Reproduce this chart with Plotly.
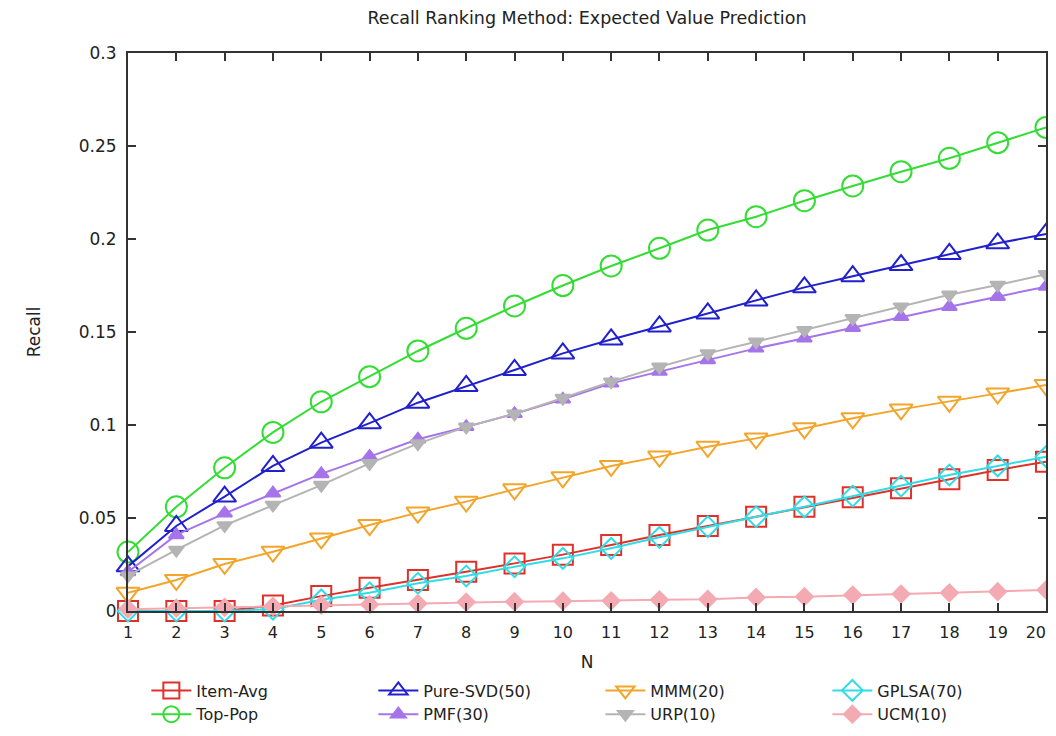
import plotly.graph_objects as go

N = list(range(1, 21))
# last label padded so it stays inside the page edge
x_tick_labels = [str(n) for n in N[:-1]] + ["20\u00a0\u00a0\u00a0\u00a0"]

item_avg = [0.0, 0.0, 0.0, 0.003, 0.008, 0.0125, 0.0167, 0.0211, 0.0256, 0.0303,
            0.0355, 0.0409, 0.0457, 0.0507, 0.056, 0.0611, 0.066, 0.0708, 0.0758, 0.0803]
top_pop = [0.0317, 0.056, 0.077, 0.096, 0.1125, 0.126, 0.1398, 0.152, 0.164, 0.175,
           0.1855, 0.195, 0.2048, 0.212, 0.2206, 0.2285, 0.2362, 0.2434, 0.2518, 0.260]
pure_svd = [0.024, 0.0457, 0.0615, 0.078, 0.0905, 0.101, 0.112, 0.121, 0.1296, 0.1385,
            0.146, 0.153, 0.160, 0.167, 0.174, 0.180, 0.186, 0.192, 0.1977, 0.2027]
pmf = [0.021, 0.0409, 0.0525, 0.0633, 0.0737, 0.083, 0.0923, 0.099, 0.106, 0.1138,
       0.1224, 0.1287, 0.135, 0.1412, 0.1466, 0.1523, 0.1582, 0.1636, 0.169, 0.1744]
mmm = [0.0098, 0.0167, 0.0253, 0.0319, 0.039, 0.0462, 0.0529, 0.0588, 0.0654, 0.0719,
       0.078, 0.083, 0.0883, 0.0928, 0.0982, 0.1036, 0.1084, 0.1125, 0.117, 0.1215]
urp = [0.019, 0.0328, 0.046, 0.057, 0.0677, 0.0794, 0.090, 0.099, 0.106, 0.1145,
       0.1233, 0.1313, 0.1385, 0.1448, 0.151, 0.1574, 0.1636, 0.170, 0.1753, 0.181]
gplsa = [0.0, 0.0, 0.0, 0.001, 0.006, 0.0098, 0.0149, 0.0188, 0.0238, 0.0283,
         0.0337, 0.0396, 0.0453, 0.0507, 0.056, 0.0618, 0.0672, 0.0731, 0.078, 0.083]
ucm = [0.001, 0.0015, 0.002, 0.0025, 0.0032, 0.0035, 0.004, 0.0048, 0.005, 0.0053,
       0.0055, 0.006, 0.0063, 0.0073, 0.0077, 0.0086, 0.0091, 0.0098, 0.0104, 0.0113]

series = [
    # name, values, color, symbol, size, legend rank
    ("Item-Avg", item_avg, "#e0302a", "square-open", 20, 1),
    ("Top-Pop", top_pop, "#33dd33", "circle-open", 21, 5),
    ("Pure-SVD(50)", pure_svd, "#2020cc", "triangle-up-open", 20, 2),
    ("PMF(30)", pmf, "#a574ea", "triangle-up", 13, 6),
    ("MMM(20)", mmm, "#f2a52a", "triangle-down-open", 20, 3),
    ("URP(10)", urp, "#b4b4b4", "triangle-down", 13, 7),
    ("GPLSA(70)", gplsa, "#30dde6", "diamond-open", 16, 4),
    ("UCM(10)", ucm, "#f4aab2", "diamond", 13, 8),
]

fig = go.Figure()
for name, vals, color, sym, size, rank in series:
    fig.add_trace(go.Scatter(
        x=N, y=vals, name=name, mode="lines+markers",
        line=dict(color=color, width=2),
        marker=dict(symbol=sym, size=size, color=color,
                    line=dict(color=color, width=2)),
        legendrank=rank, cliponaxis=False,
    ))

font = "DejaVu Sans, Verdana, sans-serif"
txt = "#222222"
axis_common = dict(
    showline=True, linecolor="#333333", linewidth=2, mirror="allticks",
    ticks="inside", ticklen=8, tickcolor="#333333", tickwidth=1.5,
    showgrid=False, zeroline=False, automargin=False,
    ticklabeloverflow="allow",
)

# page body adds an 8px margin, so the figure is placed at (8, 8)
fig.update_layout(
    width=1040, height=720,
    paper_bgcolor="white", plot_bgcolor="white",
    margin=dict(l=120, r=2, t=45, b=117, autoexpand=False),
    title=dict(text="Recall Ranking Method: Expected Value Prediction",
               xref="paper", x=0.5, xanchor="center", y=1 - 10 / 720, yanchor="middle",
               font=dict(family=font, size=17.5, color=txt)),
    xaxis=dict(range=[1, 20], tickmode="array", tickvals=N, ticktext=x_tick_labels,
               ticklabelstandoff=6,
               tickfont=dict(family=font, size=16, color=txt),
               title=dict(text="N", font=dict(family=font, size=17, color=txt),
                          standoff=15),
               **axis_common),
    yaxis=dict(range=[0, 0.3], dtick=0.05, tick0=0,
               ticklabelstandoff=6,
               tickfont=dict(family=font, size=17, color=txt),
               title=dict(text="Recall", font=dict(family=font, size=17, color=txt),
                          standoff=34),
               **axis_common),
    legend=dict(orientation="h", x=0.02, y=-0.112, xanchor="left", yanchor="top",
                entrywidth=172, entrywidthmode="pixels", tracegroupgap=0,
                font=dict(family=font, size=16, color=txt),
                itemwidth=40, bgcolor="rgba(0,0,0,0)"),
    showlegend=True,
)

fig.write_html("out.html")
